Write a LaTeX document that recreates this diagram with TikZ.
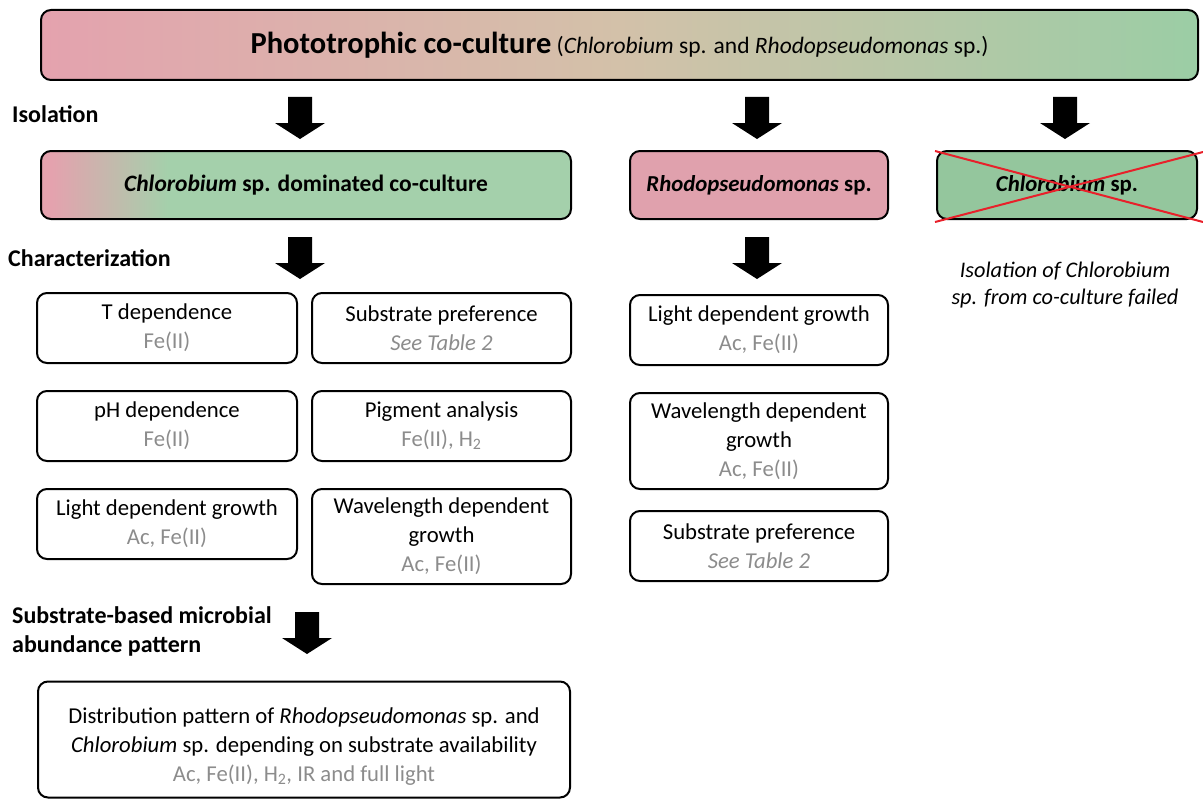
\documentclass[tikz,border=0pt]{standalone}
\usepackage{fontspec}
\setmainfont{Carlito}
\definecolor{pinkc}{HTML}{E4A2AE}
\definecolor{beigec}{HTML}{D3C1A9}
\definecolor{greenc}{HTML}{9BCDA5}
\definecolor{greendom}{HTML}{A4D0AB}
\definecolor{rhodoc}{HTML}{E0A1AD}
\definecolor{chlorc}{HTML}{94C69D}
\definecolor{grayt}{HTML}{8C8C8C}
\definecolor{crossred}{HTML}{E8202A}
\pgfdeclarehorizontalshading{titlegrad}{100bp}{color(0bp)=(pinkc); color(25bp)=(pinkc); color(50bp)=(beigec); color(75bp)=(greenc); color(100bp)=(greenc)}
\pgfdeclarehorizontalshading{domgrad}{100bp}{color(0bp)=(pinkc); color(26bp)=(pinkc); color(37bp)=(greendom); color(100bp)=(greendom)}
\newcommand\gr[1]{\textcolor{grayt}{#1}}
\tikzset{
  box/.style={draw, line width=2pt, rounded corners=10pt, align=center, inner sep=4pt,
    font=\fontsize{22.7}{29}\selectfont},
  headbox/.style={box, font=\fontsize{22.8}{27}\selectfont\bfseries},
  lbl/.style={anchor=west, font=\fontsize{24}{29}\selectfont\bfseries, align=left, inner sep=0pt},
  pics/darrow/.style={code={\fill (-12,0) -- (12,0) -- (12,26) -- (25,26) -- (0,42) -- (-25,26) -- (-12,26) -- cycle;}}
}
\begin{document}
\begin{tikzpicture}[x=1pt,y=-1pt]
\useasboundingbox (0,0) rectangle (1203,800);
% title
\node[box, shading=titlegrad, minimum width=1157pt, minimum height=70pt, font=\fontsize{23.5}{28}\selectfont] (title) at (619.5,45)
  {{\fontsize{30.5}{36}\selectfont\bfseries Phototrophic co-culture} (\textit{Chlorobium} sp. and \textit{Rhodopseudomonas} sp.)};
% labels
\node[lbl] (iso) at (12,114) {Isolation};
\node[lbl] (char) at (8,258) {Characterization};
\node[lbl, anchor=north west] (subst) at (12,606) {Substrate-based microbial\\abundance pattern};
% arrows
\pic at (300,97) {darrow};
\pic at (757,97) {darrow};
\pic at (1065,97) {darrow};
\pic at (300,237) {darrow};
\pic at (757,237) {darrow};
\pic at (307,612) {darrow};
% second level
\node[headbox, shading=domgrad, minimum width=530pt, minimum height=68pt, font=\fontsize{23.5}{27}\selectfont\bfseries] (dom) at (306,185)
  {\textit{Chlorobium} sp. dominated co-culture};
\node[headbox, fill=rhodoc, minimum width=258pt, minimum height=68pt] (rhodo) at (759,185)
  {\textit{Rhodopseudomonas} sp.};
\node[headbox, fill=chlorc, minimum width=260pt, minimum height=68pt] (chlor) at (1067,185)
  {\textit{Chlorobium} sp.};
\coordinate (c1) at (935,151);
\coordinate (c2) at (1203,222);
\coordinate (c3) at (935,222);
\coordinate (c4) at (1203,152);
\draw[crossred, line width=2pt] (c1) -- (c2);
\draw[crossred, line width=2pt] (c3) -- (c4);
\node[align=center, font=\fontsize{22.3}{27}\selectfont\itshape] (fail) at (1065,285)
  {Isolation of Chlorobium\\sp. from co-culture failed};
% left grid
\node[box, minimum width=260pt, minimum height=70pt] (tdep) at (167,328) {T dependence\\\gr{Fe(II)}};
\node[box, minimum width=259pt, minimum height=70pt] (subpref) at (441.5,328) {Substrate preference\\\gr{\textit{See Table 2}}};
\node[box, minimum width=260pt, minimum height=70pt] (phdep) at (167,426) {pH dependence\\\gr{Fe(II)}};
\node[box, minimum width=259pt, minimum height=70pt] (pig) at (441.5,426) {Pigment analysis\\\gr{Fe(II), H\textsubscript{2}}};
\node[box, minimum width=260pt, minimum height=70pt] (light) at (167,524) {Light dependent growth\\\gr{Ac, Fe(II)}};
\node[box, minimum width=259pt, minimum height=95pt] (wave) at (441.5,536.5) {Wavelength dependent\\growth\\\gr{Ac, Fe(II)}};
% right column
\node[box, minimum width=258pt, minimum height=70pt] (rlight) at (759,330) {Light dependent growth\\\gr{Ac, Fe(II)}};
\node[box, minimum width=258pt, minimum height=96pt] (rwave) at (759,441) {Wavelength dependent\\growth\\\gr{Ac, Fe(II)}};
\node[box, minimum width=258pt, minimum height=70pt] (rsub) at (759,546) {Substrate preference\\\gr{\textit{See Table 2}}};
% bottom
\node[box, minimum width=532pt, minimum height=116pt] (dist) at (304,739.5) {};
\node[align=center, font=\fontsize{22.7}{29}\selectfont] (disttext) at ([yshift=-7pt]dist.center)
  {Distribution pattern of \textit{Rhodopseudomonas} sp. and\\\textit{Chlorobium} sp. depending on substrate availability\\\gr{Ac, Fe(II), H\textsubscript{2}, IR and full light}};
\end{tikzpicture}
\end{document}
